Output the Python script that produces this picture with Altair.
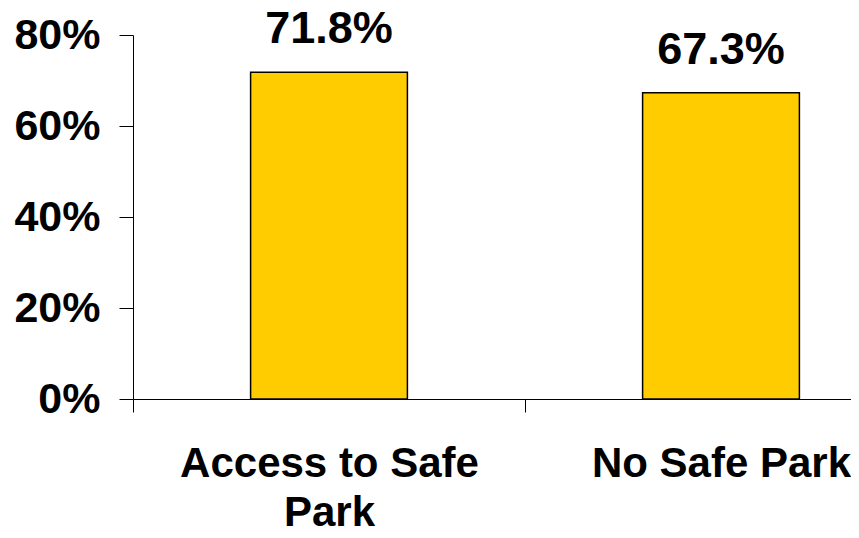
import altair as alt
import pandas as pd

categories = ["Access to Safe Park", "No Safe Park"]
values = [71.8, 67.3]
value_labels = ["71.8%", "67.3%"]
y_ticks = [0, 20, 40, 60, 80]

df = pd.DataFrame({"cat": categories, "val": values, "lab": value_labels})

FONT = "Liberation Sans"

y_enc = alt.Y(
    "val:Q",
    title=None,
    scale=alt.Scale(domain=[0, 80], nice=False, zero=True),
    axis=alt.Axis(
        values=y_ticks,
        labelExpr="datum.value + '%'",
        labelFont=FONT,
        labelFontSize=43,
        labelFontWeight="bold",
        labelColor="black",
        labelPadding=19,
        tickSize=14,
        tickColor="black",
        domainColor="black",
        grid=False,
    ),
)

bars = alt.Chart(df).mark_bar(
    color="#FFCC00", stroke="black", strokeWidth=1.5
).encode(
    x=alt.X(
        "cat:N",
        sort=categories,
        title=None,
        scale=alt.Scale(range=[0, 784], paddingInner=0.6, paddingOuter=0.3),
        axis=None,
    ),
    y=y_enc,
)

text = alt.Chart(df).mark_text(
    font=FONT, fontSize=45, fontWeight="bold", color="black",
    baseline="alphabetic", dy=-29
).encode(
    x=alt.X(
        "cat:N",
        sort=categories,
        title=None,
        scale=alt.Scale(range=[0, 784], paddingInner=0, paddingOuter=0),
        axis=alt.Axis(
            labelAngle=0,
            labelFont=FONT,
            labelFontSize=42,
            labelFontWeight="bold",
            labelColor="black",
            labelPadding=31,
            labelLineHeight=49,
            labelBaseline="top",
            labelLimit=0,
            labelExpr="datum.value == 'Access to Safe Park' ? ['Access to Safe', 'Park'] : datum.value",
            tickBand="extent",
            tickSize=13,
            tickColor="black",
            domainColor="black",
            labelOverlap=False,
            labelBound=False,
            labelFlush=False,
        ),
    ),
    y=alt.Y("val:Q", scale=alt.Scale(domain=[0, 80], nice=False, zero=True)),
    text="lab:N",
)

chart = (
    alt.layer(bars, text)
    .resolve_scale(x="independent")
    .properties(
        width=718,
        height=364,
        autosize=alt.AutoSizeParams(type="none"),
        padding={"left": 125, "top": 27, "right": 0, "bottom": 131},
        background="white",
    )
    .configure_view(strokeWidth=0)
)

chart.save("out.html", embed_options={"renderer": "svg", "actions": False})
